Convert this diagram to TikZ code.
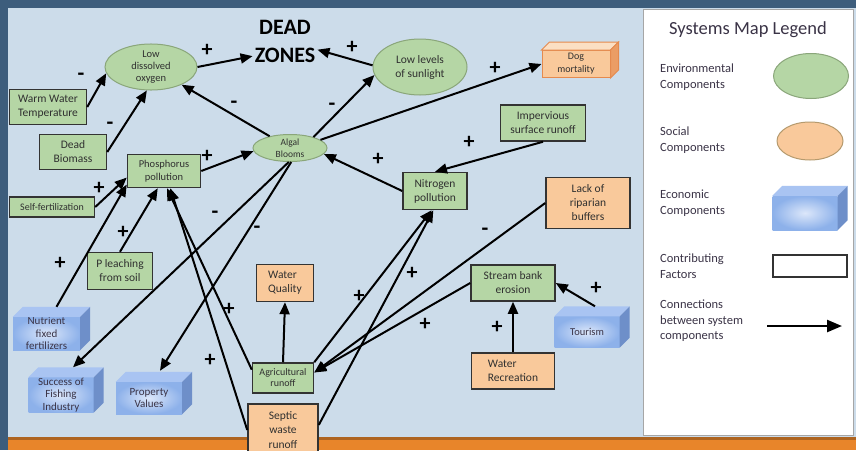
\documentclass[tikz,border=0pt]{standalone}
\usepackage{fontspec}
\setmainfont{Carlito}
\usetikzlibrary{arrows.meta,shapes.geometric}
\definecolor{frame}{HTML}{3D5D7C}
\definecolor{sky}{HTML}{CCDCEA}
\definecolor{envgreen}{HTML}{B5D6A5}
\definecolor{envline}{HTML}{8AA67A}
\definecolor{socorange}{HTML}{F9C99B}
\definecolor{socline}{HTML}{B59A6E}
\definecolor{dogline}{HTML}{E58A4E}
\definecolor{ecoblue}{HTML}{8DB1EA}
\definecolor{ecolight}{HTML}{DCE7FA}
\definecolor{ecotop}{HTML}{A9C4F2}
\definecolor{ecoside}{HTML}{6E8FC9}
\definecolor{txtgray}{HTML}{303030}
\definecolor{legink}{HTML}{3A3346}
\definecolor{stripe}{HTML}{E8852A}

\begin{document}
\begin{tikzpicture}[x=1pt,y=-1pt,
  conn/.style={line width=2pt,-{Triangle[length=12pt,width=10pt]}},
  wh/.style 2 args={minimum width=#1pt,minimum height=#2pt},
  fbox/.style={draw=black!80,line width=1.5pt,text=txtgray,align=center,inner sep=1pt},
  env/.style={fbox,fill=envgreen},
  soc/.style={fbox,fill=socorange},
  envell/.style={ellipse,draw=envline,line width=1pt,fill=envgreen,text=txtgray,align=center,inner sep=0pt},
  eco/.style={inner color=ecolight,outer color=ecoblue,text=legink,align=center,inner sep=0pt},
  sgn/.style={font=\bfseries\fontsize{22}{22}\selectfont,inner sep=0pt},
  bigtxt/.style={font=\fontsize{11.5}{14}\selectfont},
  ecotxt/.style={font=\fontsize{11}{12.5}\selectfont},
  smalltxt/.style={font=\fontsize{10.5}{12}\selectfont},
  legtxt/.style={font=\fontsize{12.5}{15.5}\selectfont,text=legink,align=left,anchor=west,inner sep=0pt}]
\useasboundingbox (0,0) rectangle (856,450);
% background
\fill[frame] (0,0) rectangle (856,450);
\fill[sky] (8,8) rectangle (856,438);
\fill[stripe] (8,438) rectangle (856,450);
\fill[stripe!75!black] (8,437) rectangle (856,439.5);
\filldraw[fill=white,draw=gray!70] (643,9) rectangle (853,435);

% title
\node[font=\bfseries\fontsize{22}{28}\selectfont,align=center,inner sep=2pt] (dz) at (285,41) {DEAD\\ZONES};

% environmental
\node[envell,smalltxt,wh={92}{41}] (lowox) at (151,67) {Low\\dissolved\\oxygen};
\node[envell,bigtxt,wh={94}{56}] (lowsun) at (420,67) {Low levels\\of sunlight};
\node[envell,font=\fontsize{9.5}{12}\selectfont,wh={74}{27}] (algae) at (290,148) {Algal\\Blooms};
\node[env,bigtxt,wh={77}{35}] (wwt) at (48,107) {Warm Water\\Temperature};
\node[env,bigtxt,wh={67}{35}] (db) at (73,152) {Dead\\Biomass};
\node[env,font=\fontsize{10.5}{12.5}\selectfont,wh={73}{33}] (phos) at (164,171) {Phosphorus\\pollution};
\node[env,font=\fontsize{10}{11}\selectfont,wh={85}{20}] (self) at (52,207) {Self-fertilization};
\node[env,bigtxt,wh={85}{36}] (imperv) at (543,123) {Impervious\\surface runoff};
\node[env,bigtxt,wh={64}{37}] (nitro) at (435,191) {Nitrogen\\pollution};
\node[env,bigtxt,wh={65}{37}] (pleach) at (120,271) {P leaching\\from soil};
\node[env,font=\fontsize{10}{11}\selectfont,wh={61}{30}] (agri) at (283,378) {Agricultural\\runoff};
\node[env,bigtxt,wh={84}{36}] (stream) at (513,283) {Stream bank\\erosion};

% social
\node[soc,bigtxt,wh={84}{51}] (lack) at (588,203) {Lack of\\riparian\\buffers};
\node[soc,bigtxt,align=left,wh={57}{37}] (wq) at (285,283) {Water\\Quality};
\node[soc,bigtxt,align=left,wh={83}{36}] (wrec) at (513,371) {Water\\Recreation};
\node[soc,font=\fontsize{11.5}{14.5}\selectfont,wh={70}{52}] (septic) at (283,430) {Septic\\waste\\runoff};
\node[fill=socorange,draw=dogline,line width=1pt,text=txtgray,align=center,inner sep=0pt,
  font=\fontsize{10}{13}\selectfont,wh={68}{27}] (dog) at (576,64) {Dog\\mortality};
\filldraw[fill=socorange!60!white,draw=dogline,line width=1pt] (dog.north west) -- ++(8,-8) -- ([shift={(8,-8)}]dog.north east) -- (dog.north east) -- cycle;
\filldraw[fill=dogline!70!socorange,draw=dogline,line width=1pt] (dog.north east) -- ++(8,-8) -- ([shift={(8,-8)}]dog.south east) -- (dog.south east) -- cycle;

% economic
\node[eco,ecotxt,wh={67}{33}] (nutr) at (46.5,333.5) {Nutrient\\fixed\\fertilizers};
\node[eco,ecotxt,wh={65}{35}] (fish) at (61,395) {Success of\\Fishing\\Industry};
\node[eco,ecotxt,wh={66}{32}] (prop) at (149,398) {Property\\Values};
\node[eco,font=\fontsize{10.5}{12}\selectfont,wh={65}{31}] (tour) at (587,332) {Tourism};

% legend
\node[font=\fontsize{18.5}{20}\selectfont,text=legink] (legtitle) at (748,30) {Systems Map Legend};
\node[legtxt] (lt1) at (660,77) {Environmental\\Components};
\node[envell,wh={75}{45}] (legenv) at (811,76) {};
\node[legtxt] (lt2) at (660,140) {Social\\Components};
\node[ellipse,draw=socline,fill=socorange,line width=1pt,wh={66}{38}] (legsoc) at (810,141) {};
\node[legtxt] (lt3) at (660,203) {Economic\\Components};
\node[eco,wh={65}{34}] (legeco) at (805,213) {};
\node[legtxt] (lt4) at (660,266) {Contributing\\Factors};
\node[draw=black!80,line width=1.5pt,fill=white,wh={74}{22}] (legfac) at (810,266) {};
\node[legtxt] (lt5) at (660,321) {Connections\\between system\\components};
\coordinate (arrA) at (767,326);
\coordinate (arrB) at (842,326);
\draw[line width=2.4pt,-{Triangle[length=15pt,width=12pt]}] (arrA) -- (arrB);

% box sides
\foreach \b in {nutr,fish,prop,tour,legeco}{
  \fill[ecotop] (\b.north west) -- ++(10,-10) -- ([shift={(10,-10)}]\b.north east) -- (\b.north east) -- cycle;
  \fill[ecoside] (\b.north east) -- ++(10,-10) -- ([shift={(10,-10)}]\b.south east) -- (\b.south east) -- cycle;
}

% connections
\draw[conn] (wwt.east) -- (lowox.188);
\draw[conn] (db.east) -- (lowox.260);
\draw[conn] (lowox.east) -- (dz.205);
\draw[conn] (lowsun.178) -- (dz.-15);
\draw[conn] (algae.150) -- (lowox.-30);
\draw[conn] (algae.25) -- (lowsun.190);
\draw[conn] (algae.15) -- (dog.west);
\draw[conn] (phos.east) -- (algae.185);
\draw[conn] (nitro.west) -- (algae.-10);
\draw[conn] (imperv.south) -- (nitro.north);
\draw[conn] (self.east) -- (phos.190);
\draw[conn] ([shift={(10,-10)}]nutr.north) -- (phos.200);
\draw[conn] (pleach.north) -- (phos.250);
\draw[conn] (agri.165) -- (phos.-80);
\draw[conn] (septic.west) -- (phos.-70);
\draw[conn] (algae.-95) -- ([shift={(12,-10)}]fish.north);
\draw[conn] (algae.-85) -- ([shift={(11,-11)}]prop.north);
\draw[conn] (agri.north) -- (wq.south);
\draw[conn] (agri.north east) -- (nitro.-100);
\draw[conn] (septic.8) -- (nitro.-95);
\draw[conn] (lack.west) -- (agri.10);
\draw[conn] (stream.west) -- (agri.10);
\draw[conn] (wrec.north) -- (stream.south);
\draw[conn] ([shift={(8,-10)}]tour.north) -- (stream.east);

% signs
\foreach \x/\y/\s [count=\i] in {81/77/-, 110/126/-, 207/50/+, 352/47/+, 234/105/-, 332/107/-,
  495/68/+, 207/156/+, 378/159/+, 469/142/+, 99/188/+, 60/263/+, 123/232/+, 229/309/+,
  210/360/+, 215/215/-, 257/230/-, 359/296/+, 412/273/+, 485/232/-, 425/324/+, 497/327/+, 596/288/+}
  \node[sgn] (sign\i) at (\x,\y) {\s};
\end{tikzpicture}
\end{document}
